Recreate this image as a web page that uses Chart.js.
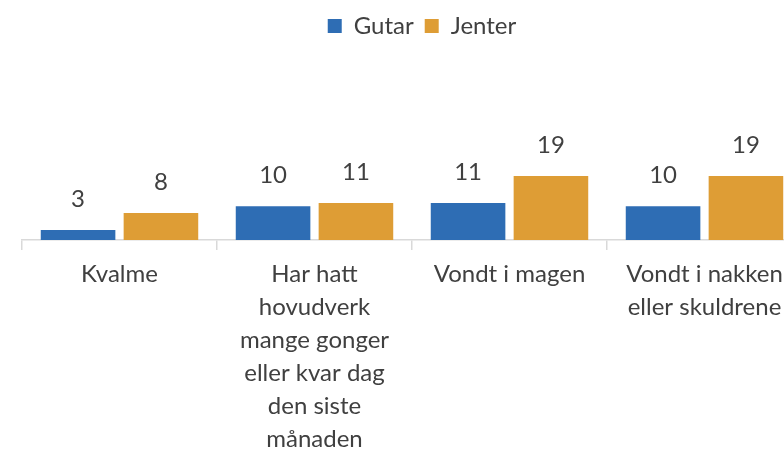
<!DOCTYPE html>
<html>
<head>
<meta charset="utf-8">
<script src="https://cdn.jsdelivr.net/npm/chart.js@4/dist/chart.umd.min.js"></script>
<style>
  html, body { margin: 0; padding: 0; background: #ffffff; overflow: hidden; }
  #wrap { position: relative; width: 822px; height: 464px; }
</style>
</head>
<body>
<div id="wrap"><canvas id="c"></canvas></div>
<script>
const categories = [
  ["Kvalme"],
  ["Har hatt", "hovudverk", "mange gonger", "eller kvar dag", "den siste", "månaden"],
  ["Vondt i magen"],
  ["Vondt i nakken", "eller skuldrene"]
];
const seriesNames = ["Gutar", "Jenter"];
const gutar = [3, 10, 11, 10];
const jenter = [8, 11, 19, 19];

const textColor = '#404040';
const fontFamily = 'Lato, "Open Sans", sans-serif';

const valueLabels = {
  id: 'valueLabels',
  afterDatasetsDraw(chart) {
    const ctx = chart.ctx;
    ctx.save();
    ctx.font = '24px ' + fontFamily;
    ctx.fillStyle = textColor;
    ctx.textAlign = 'center';
    ctx.textBaseline = 'middle';
    chart.data.datasets.forEach((ds, i) => {
      const meta = chart.getDatasetMeta(i);
      meta.data.forEach((el, j) => {
        ctx.fillText(String(ds.data[j]), el.x, el.y - 31);
      });
    });
    ctx.restore();
  }
};

new Chart(document.getElementById('c'), {
  type: 'bar',
  data: {
    labels: categories,
    datasets: [
      { label: seriesNames[0], data: gutar, backgroundColor: '#2E6DB4' },
      { label: seriesNames[1], data: jenter, backgroundColor: '#DE9D35' }
    ]
  },
  options: {
    responsive: true,
    maintainAspectRatio: false,
    animation: false,
    events: [],
    layout: { padding: { left: 22, right: 0, top: 3, bottom: 0 } },
    datasets: { bar: { categoryPercentage: 0.85, barPercentage: 0.9 } },
    plugins: {
      legend: {
        position: 'top',
        labels: {
          boxWidth: 14,
          boxHeight: 14,
          padding: 11,
          color: textColor,
          font: { family: fontFamily, size: 24 }
        }
      },
      tooltip: { enabled: false }
    },
    scales: {
      x: {
        offset: true,
        grid: {
          offset: true,
          drawOnChartArea: false,
          drawTicks: true,
          tickLength: 10,
          color: '#D9D9D9',
          lineWidth: 1.5
        },
        border: { display: true, color: '#D9D9D9', width: 1.5 },
        ticks: {
          color: textColor,
          padding: 8,
          maxRotation: 0,
          autoSkip: false,
          font: { family: fontFamily, size: 24, lineHeight: 1.375 }
        }
      },
      y: {
        position: 'right',
        min: 0,
        max: 57,
        grid: { display: false },
        border: { display: false },
        ticks: { display: false },
        afterFit(scale) { scale.width = 20; }
      }
    }
  },
  plugins: [valueLabels]
});
</script>
</body>
</html>
